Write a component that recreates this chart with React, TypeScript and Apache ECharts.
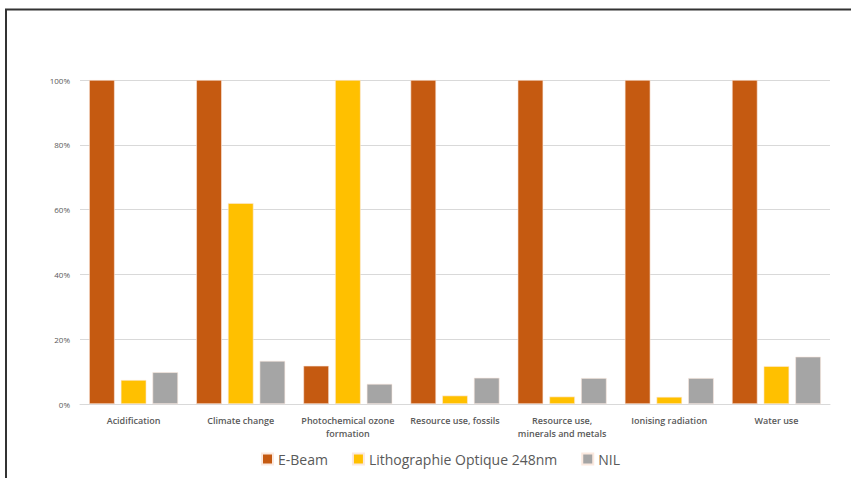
import React, { useEffect, useRef } from "react";
import * as echarts from "echarts";

const categories = [
  "Acidification",
  "Climate change",
  "Photochemical ozone\nformation",
  "Resource use, fossils",
  "Resource use,\nminerals and metals",
  "Ionising radiation",
  "Water use",
];
const eBeam = [100, 100, 11.8, 100, 100, 100, 100];
const lithoOptique = [7.4, 62, 100, 2.6, 2.3, 2.2, 11.7];
const nil = [9.8, 13.3, 6.2, 8.1, 8.0, 8.0, 14.6];
const yTicks = [0, 20, 40, 60, 80, 100];

const FONT = "'Open Sans', 'Liberation Sans', sans-serif";

export default function App() {
  const ref = useRef<HTMLDivElement>(null);

  useEffect(() => {
    if (!ref.current) return;
    const chart = echarts.init(ref.current, null, { renderer: "svg" });
    const barStyle = (color: string) => ({
      color,
      borderColor: "#fbe9df",
      borderWidth: 0.6,
    });
    chart.setOption({
      animation: false,
      backgroundColor: "#ffffff",
      grid: { left: 80, right: 21, top: 80, bottom: 74, containLabel: false },
      legend: {
        top: 447,
        left: 256,
        itemWidth: 11,
        itemHeight: 11,
        itemGap: 24,
        icon: "rect",
        textStyle: { fontFamily: FONT, fontSize: 14, fontWeight: 500, color: "#595959" },
        data: ["E-Beam", "Lithographie Optique 248nm", "NIL"],
      },
      xAxis: {
        type: "category",
        data: categories,
        axisLine: { lineStyle: { color: "#d9d9d9", width: 1 } },
        axisTick: { show: false },
        axisLabel: {
          interval: 0,
          margin: 10,
          fontFamily: FONT,
          fontSize: 9,
          fontWeight: 600,
          color: "#595959",
          lineHeight: 13,
        },
      },
      yAxis: {
        type: "value",
        min: yTicks[0],
        max: yTicks[yTicks.length - 1],
        interval: 20,
        axisLine: { show: false },
        axisTick: { show: false },
        splitLine: { lineStyle: { color: "#d9d9d9", width: 1 } },
        axisLabel: {
          margin: 10,
          fontFamily: FONT,
          fontSize: 8,
          color: "#595959",
          formatter: (v: number) => `${v}%`,
        },
      },
      series: [
        {
          name: "E-Beam",
          type: "bar",
          data: eBeam,
          itemStyle: barStyle("#C55A11"),
          barGap: "24%",
          barCategoryGap: "17%",
        },
        {
          name: "Lithographie Optique 248nm",
          type: "bar",
          data: lithoOptique,
          itemStyle: barStyle("#FFC000"),
        },
        {
          name: "NIL",
          type: "bar",
          data: nil,
          itemStyle: barStyle("#A5A5A5"),
        },
      ],
      graphic: [
        {
          type: "line",
          shape: { x1: 5, y1: 9.5, x2: 851, y2: 9.5 },
          style: { stroke: "#333333", lineWidth: 2 },
        },
        {
          type: "line",
          shape: { x1: 6, y1: 9, x2: 6, y2: 478 },
          style: { stroke: "#333333", lineWidth: 2 },
        },
      ],
    });
    return () => chart.dispose();
  }, []);

  return (
    <div
      ref={ref}
      style={{ position: "fixed", left: 0, top: 0, width: 851, height: 478 }}
    />
  );
}
